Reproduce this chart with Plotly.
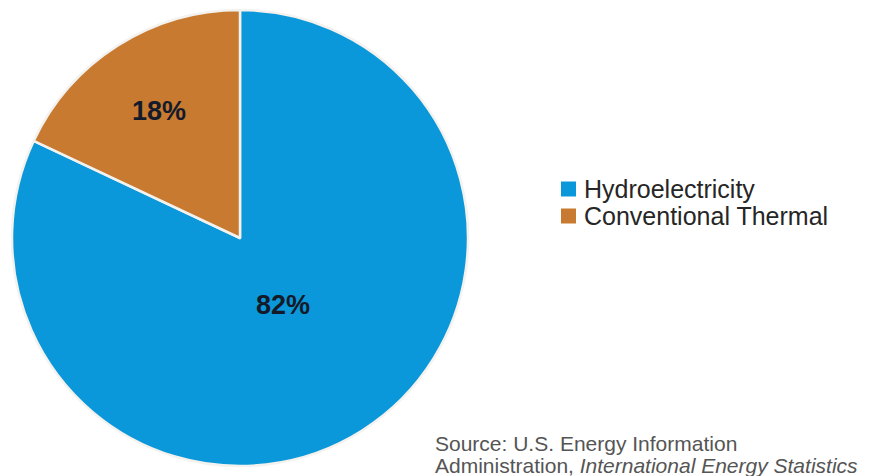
import math
import plotly.graph_objects as go

# Electricity generation shares
labels = ["Hydroelectricity", "Conventional Thermal"]
shares = [82, 18]
colors = ["#0A98DA", "#C87A30"]
# radial position of each percentage label, as a fraction of the radius
label_radius = [0.35, 0.66]

source_line1 = "Source: U.S. Energy Information"
source_line2 = "Administration, <i>International Energy Statistics</i>"

W, H = 874, 476
cx, cy, r = 240, 238, 228
FONT = "Liberation Sans, Arial, sans-serif"

fig = go.Figure()
fig.add_trace(go.Pie(
    labels=labels,
    values=shares,
    sort=False,
    direction="clockwise",
    rotation=0,
    marker=dict(colors=colors, line=dict(color="#F4F2EE", width=2.5)),
    textinfo="none",
    domain=dict(x=[(cx - r) / W, (cx + r) / W], y=[(H - cy - r) / H, (H - cy + r) / H]),
    showlegend=False,
    hoverinfo="label+percent",
))

# Percentage labels placed along each slice's middle angle
total = sum(shares)
cum = 0
for v, frac in zip(shares, label_radius):
    mid = (cum + v / 2) / total * 2 * math.pi
    cum += v
    px = cx + frac * r * math.sin(mid)
    py = cy - frac * r * math.cos(mid)
    fig.add_annotation(text=f"{round(v / total * 100)}%", xref="paper", yref="paper",
                       x=px / W, y=1 - py / H, xanchor="center", yanchor="middle",
                       showarrow=False,
                       font=dict(family=FONT, size=27, color="#141A2A", weight="bold"))

# Legend drawn as swatch + label rows
legend_x0 = 561 / W
sw = 15
row_y = [189, 216]
for lab, col, yc in zip(labels, colors, row_y):
    fig.add_shape(type="rect", xref="paper", yref="paper",
                  x0=legend_x0, x1=legend_x0 + sw / W,
                  y0=1 - (yc + sw / 2) / H, y1=1 - (yc - sw / 2) / H,
                  fillcolor=col, line=dict(width=0))
    fig.add_annotation(text=lab, xref="paper", yref="paper",
                       x=582 / W, y=1 - yc / H, xanchor="left", yanchor="middle",
                       showarrow=False,
                       font=dict(family=FONT, size=25, color="#262626"))

for txt, yc in [(source_line1, 443), (source_line2, 465)]:
    fig.add_annotation(text=txt, xref="paper", yref="paper",
                       x=433 / W, y=1 - yc / H, xanchor="left", yanchor="middle",
                       showarrow=False,
                       font=dict(family=FONT, size=21, color="#555555"))

fig.update_layout(
    width=W, height=H,
    margin=dict(l=0, r=0, t=0, b=0),
    paper_bgcolor="white",
    plot_bgcolor="white",
)

fig.write_html("out.html")
